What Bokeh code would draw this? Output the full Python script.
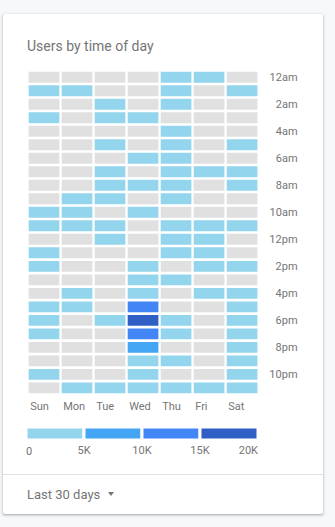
from bokeh.plotting import figure
from bokeh.models import Range1d, LinearColorMapper, ColumnDataSource, Div
from bokeh.layouts import column
from bokeh.embed import file_html
from bokeh.resources import INLINE
from bokeh.transform import transform
from bokeh.core.properties import value, field

# ---------------- data ----------------
days = ["Sun", "Mon", "Tue", "Wed", "Thu", "Fri", "Sat"]
hour_tick_positions = [0, 2, 4, 6, 8, 10, 12, 14, 16, 18, 20, 22]
hour_labels = ["12am", "2am", "4am", "6am", "8am", "10am",
               "12pm", "2pm", "4pm", "6pm", "8pm", "10pm"]

# users per hour (0..23) for each weekday; 0 = no users (grey cell)
users_sun = [0, 2300, 0, 1800, 0, 0, 0, 0, 0, 0, 2600, 3100,
             0, 2700, 2900, 0, 0, 3400, 3800, 3300, 0, 0, 2500, 0]
users_mon = [0, 2100, 0, 0, 0, 0, 0, 0, 0, 2400, 2800, 3000,
             0, 0, 0, 0, 2600, 3200, 0, 0, 0, 0, 0, 2200]
users_tue = [0, 0, 1900, 2000, 0, 1800, 0, 2300, 2700, 2900, 0, 3100,
             2800, 0, 0, 0, 0, 0, 3300, 0, 0, 0, 0, 2400]
users_wed = [0, 0, 0, 2000, 0, 0, 2200, 0, 2600, 0, 2900, 0,
             0, 0, 3000, 3400, 4100, 11800, 17200, 12600, 7400, 4300, 3600, 2700]
users_thu = [2100, 1900, 1800, 0, 1700, 1900, 2300, 2700, 3000, 3200, 0, 3400,
             3300, 3100, 0, 3500, 0, 0, 3900, 3700, 0, 3000, 0, 2500]
users_fri = [2000, 0, 0, 0, 0, 0, 0, 2400, 0, 0, 0, 2900,
             3000, 2800, 2700, 0, 2600, 0, 0, 0, 0, 0, 0, 2200]
users_sat = [0, 2200, 0, 0, 0, 1800, 0, 2300, 2600, 0, 0, 3000,
             0, 0, 3100, 0, 3300, 3400, 3600, 3500, 3200, 3000, 2800, 2400]

legend_edges = [0, 5000, 10000, 15000, 20000]
legend_labels = ["0", "5K", "10K", "15K", "20K"]

palette = ["#93d5ed", "#45a5f5", "#4285f4", "#2f5ec4"]
empty_color = "#e0e0e0"
text_color = "#757575"
FONT = "Roboto"

# shared frame borders (column layout aligns the frames of both figures)
BORDER_L, BORDER_R = 21, 23

# ---------------- heatmap ----------------
all_days = [users_sun, users_mon, users_tue, users_wed, users_thu, users_fri, users_sat]
xs, ys, vals = [], [], []
for di, series in enumerate(all_days):
    for h, v in enumerate(series):
        xs.append(di)
        ys.append(h)
        vals.append(v)
src = ColumnDataSource(dict(x=xs, y=ys, users=vals))

mapper = LinearColorMapper(palette=palette, low=1, high=legend_edges[-1],
                           low_color=empty_color, high_color=palette[-1])

p = figure(width=320, height=356,
           x_range=Range1d(-0.591, 7.77), y_range=Range1d(24.83, -0.5),
           x_axis_location=None, y_axis_location=None,
           output_backend="svg", toolbar_location=None,
           min_border_left=BORDER_L, min_border_right=BORDER_R,
           min_border_top=14, min_border_bottom=0,
           outline_line_color=None, background_fill_color="white",
           border_fill_color="white")
p.grid.visible = False

p.rect(x="x", y="y", width=0.93, height=0.8, source=src,
       fill_color=transform("users", mapper), line_color=None)

p.text(x=[7.68] * len(hour_labels), y=hour_tick_positions, text=hour_labels,
       text_align="right", text_baseline="middle",
       text_font=value(FONT), text_font_size="11px", text_color=text_color)

p.text(x=[i - 0.42 for i in range(len(days))], y=[24.39] * len(days), text=days,
       text_align="left", text_baseline="middle",
       text_font=value(FONT), text_font_size="11px", text_color=text_color)

# ---------------- legend ----------------
leg_src = ColumnDataSource(dict(left=legend_edges[:-1], right=legend_edges[1:],
                                color=palette))
lab_src = ColumnDataSource(dict(x=legend_edges, text=legend_labels,
                                align=["left", "center", "center", "center", "right"]))

p2 = figure(width=320, height=62,
            x_range=Range1d(-129.3, 23663.8), y_range=Range1d(36, 0),
            x_axis_location=None, y_axis_location=None,
            output_backend="svg", toolbar_location=None,
            min_border_left=BORDER_L, min_border_right=BORDER_R,
            min_border_top=12, min_border_bottom=14,
            outline_line_color=None, background_fill_color="white",
            border_fill_color="white")
p2.grid.visible = False
p2.quad(left="left", right="right", top=2.5, bottom=15.5, source=leg_src,
        fill_color="color", line_color="white", line_width=3)
p2.text(x="x", y=26, text="text", source=lab_src, text_align=field("align"),
        text_baseline="middle", text_font=value(FONT), text_font_size="11px",
        text_color=text_color)

# ---------------- card texts ----------------
title_div = Div(
    text=('<div style="box-sizing:border-box;width:320px;height:42px;'
          'padding:24px 0 0 24px;font-family:Roboto;font-size:14px;'
          'line-height:16px;color:%s;white-space:nowrap;">Users by time of day</div>' % text_color),
    width=320, height=42, margin=(0, 0, 0, 0))

footer_div = Div(
    text=('<div style="box-sizing:border-box;width:320px;height:40px;'
          'border-top:1px solid #e0e0e0;padding:12px 0 0 24px;font-family:Roboto;'
          'font-size:13px;line-height:16px;color:%s;white-space:nowrap;">Last 30 days'
          '<span style="display:inline-block;width:0;height:0;margin-left:8px;'
          'border-left:3.5px solid transparent;border-right:3.5px solid transparent;'
          'border-top:4px solid %s;position:relative;top:-3px;"></span></div>'
          % (text_color, text_color)),
    width=320, height=40, margin=(0, 0, 0, 0))

card = column(title_div, p, p2, footer_div, width=320, height=500,
              margin=(14, 0, 0, 3),
              styles={"background-color": "white",
                      "box-shadow": "0 1px 2px rgba(60,64,67,0.3), 0 1px 3px 1px rgba(60,64,67,0.12)",
                      "border-radius": "2px"})

page = column(card, width=335, height=527, margin=(0, 0, 0, 0),
              styles={"background-color": "#f7f8fa"})

open("out.html", "w").write(file_html(page, INLINE))
